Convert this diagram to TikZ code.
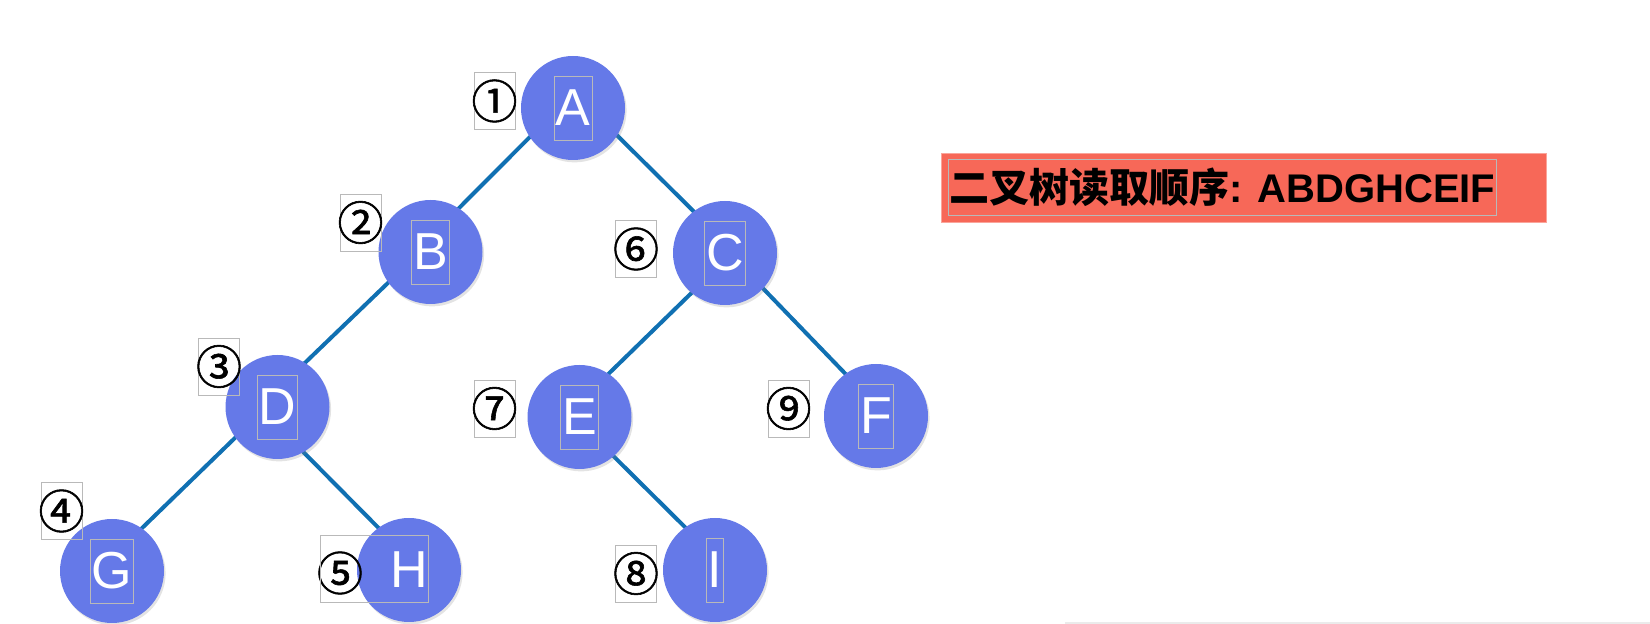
\documentclass[tikz,border=0pt]{standalone}
\usepackage{fontspec}
\setmainfont{Liberation Sans}
\newfontfamily\cjk{Noto Sans CJK SC}
\newfontfamily\circfont{Noto Sans CJK SC}[FakeBold=1.3]
\newcommand\ordernum[1]{\makebox[0pt]{#1}}
\usetikzlibrary{shadows,backgrounds}
\definecolor{nodeblue}{RGB}{101,121,232}
\definecolor{edgeblue}{RGB}{16,112,178}
\definecolor{titlered}{RGB}{247,104,88}
\definecolor{titleline}{RGB}{250,165,155}
\definecolor{boxgray}{RGB}{185,185,185}
\begin{document}
\begin{tikzpicture}[x=0.5pt,y=-0.5pt,
  treenode/.style={circle, fill=nodeblue, minimum size=52pt, inner sep=0pt,
    drop shadow={opacity=0.22, shadow xshift=0.8pt, shadow yshift=-1.2pt}},
  letter/.style={draw=boxgray, line width=0.4pt, text=white,
    font=\fontsize{26}{26}\selectfont, minimum height=32pt, inner xsep=0.8pt, inner ysep=0pt},
  plainletter/.style={text=white, font=\fontsize{26}{26}\selectfont, inner sep=0pt},
  order/.style={draw=boxgray, line width=0.4pt, font=\circfont\fontsize{23}{23}\selectfont,
    minimum width=20.5pt, minimum height=28.5pt, inner sep=0pt},
  orderplain/.style={font=\circfont\fontsize{23}{23}\selectfont, inner sep=0pt},
  edge/.style={edgeblue, line width=2pt, shorten <=-3pt, shorten >=-3pt}]
\useasboundingbox (0,0) rectangle (1650,624);

% tree nodes
\node[treenode] (a) at (573,108) {};
\node[treenode] (b) at (430.5,252) {};
\node[treenode] (c) at (725,253) {};
\node[treenode] (d) at (277.5,407) {};
\node[treenode] (e) at (579.5,417) {};
\node[treenode] (f) at (876,416) {};
\node[treenode] (g) at (112,571) {};
\node[treenode] (h) at (409,570) {};
\node[treenode] (i) at (715,570) {};

% edges
\begin{scope}[on background layer]
\draw[edge] (a.214) -- (b.57);
\draw[edge] (a.-32) -- (c.127);
\draw[edge] (b.216) -- (d.58);
\draw[edge] (d.216) -- (g.55);
\draw[edge] (d.-60) -- (h.126);
\draw[edge] (c.230) -- (e.56);
\draw[edge] (c.-43) -- (f.126);
\draw[edge] (e.-49) -- (i.125);
\end{scope}

% letters
\node[letter] (la) at (a) {A};
\node[letter] (lb) at (b) {B};
\node[letter] (lc) at (c) {C};
\node[letter] (ld) at (d) {D};
\node[letter] (le) at (e) {E};
\node[letter] (lf) at (f) {F};
\node[letter] (lg) at (g) {G};
\node[plainletter] (lh) at (h) {H};
\node[letter] (li) at (i) {I};

% visiting order labels
\node[order] (o1) at (494.5,101) {\ordernum{①}};
\node[order] (o2) at (360.5,222.5) {\ordernum{②}};
\node[order] (o3) at (219,366.5) {\ordernum{③}};
\node[order] (o4) at (61.5,511) {\ordernum{④}};
\node[orderplain] (o5) at (340,573) {\ordernum{⑤}};
\node[draw=boxgray, line width=0.4pt, minimum width=54pt, minimum height=33.5pt, inner sep=0pt] (o5box) at (374,568.5) {};
\node[order] (o6) at (636,249) {\ordernum{⑥}};
\node[order] (o7) at (494.5,408.5) {\ordernum{⑦}};
\node[order] (o8) at (636,573.5) {\ordernum{⑧}};
\node[order] (o9) at (788.5,408.5) {\ordernum{⑨}};

% title
\node[fill=titlered, draw=titleline, line width=0.4pt, minimum width=302.5pt, minimum height=34.5pt, inner sep=0pt] (titlebg) at (1243.5,187.5) {};
\node[draw=boxgray, line width=0.4pt, anchor=west, minimum height=28pt, inner xsep=0.5pt, inner ysep=0pt,
  font=\fontsize{20}{20}\selectfont] (title) at (948,187) {{\cjk\bfseries 二叉树读取顺序}{\bfseries : ABDGHCEIF}};

% faint base line
\coordinate (bl) at (1065,623);
\coordinate (br) at (1650,623);
\draw[black!8, line width=0.6pt] (bl) -- (br);
\end{tikzpicture}
\end{document}
